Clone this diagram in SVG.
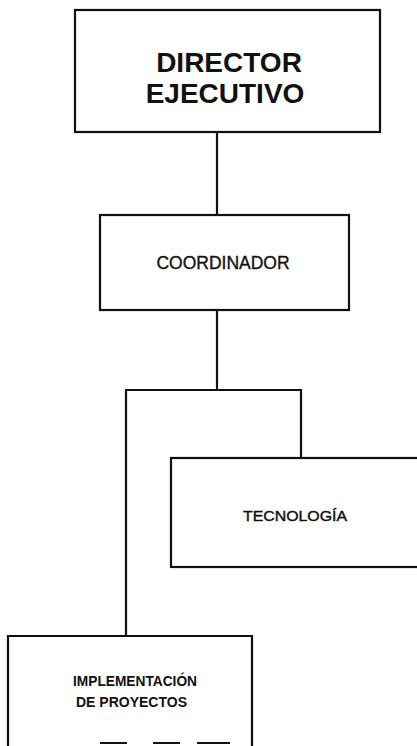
<svg xmlns="http://www.w3.org/2000/svg" width="417" height="746" viewBox="0 0 417 746">
<style>
.box{fill:#fff;stroke:#111;stroke-width:2.2}
.ln{fill:none;stroke:#111;stroke-width:2.2}
text{font-family:"Liberation Sans",Arial,sans-serif;fill:#111}
.big{font-size:28px;font-weight:bold}
.mid{font-size:17.5px;stroke:#111;stroke-width:0.35}
.sm{font-size:15.5px;stroke:#111;stroke-width:0.45}
.xs{font-size:14px;font-weight:bold}
</style>
<rect width="417" height="746" fill="#fff"/>
<g id="connectors">
<line class="ln" x1="217" y1="132" x2="217" y2="215"/>
<line class="ln" x1="217" y1="310" x2="217" y2="390"/>
<polyline class="ln" points="126,636 126,390 301,390 301,458"/>
</g>
<g id="director">
<rect class="box" x="75" y="10" width="305" height="122"/>
<text class="big" x="229" y="72" text-anchor="middle">DIRECTOR</text>
<text class="big" x="225" y="103" text-anchor="middle">EJECUTIVO</text>
</g>
<g id="coordinador">
<rect class="box" x="100" y="215" width="249" height="95"/>
<text class="mid" x="223" y="269" text-anchor="middle">COORDINADOR</text>
</g>
<g id="tecnologia">
<rect class="box" x="171" y="458" width="260" height="109"/>
<text class="sm" x="295" y="520.5" text-anchor="middle" textLength="104" lengthAdjust="spacingAndGlyphs">TECNOLOGÍA</text>
</g>
<g id="implementacion">
<path class="ln" d="M8,750 V636 H252 V750"/>
<path class="ln" d="M100,743 H127 M153,743 H180 M197,743 H230"/>
<text class="xs" x="73" y="686" textLength="124" lengthAdjust="spacingAndGlyphs">IMPLEMENTACIÓN</text>
<text class="xs" x="76" y="707" textLength="111" lengthAdjust="spacingAndGlyphs">DE PROYECTOS</text>
</g>
</svg>
